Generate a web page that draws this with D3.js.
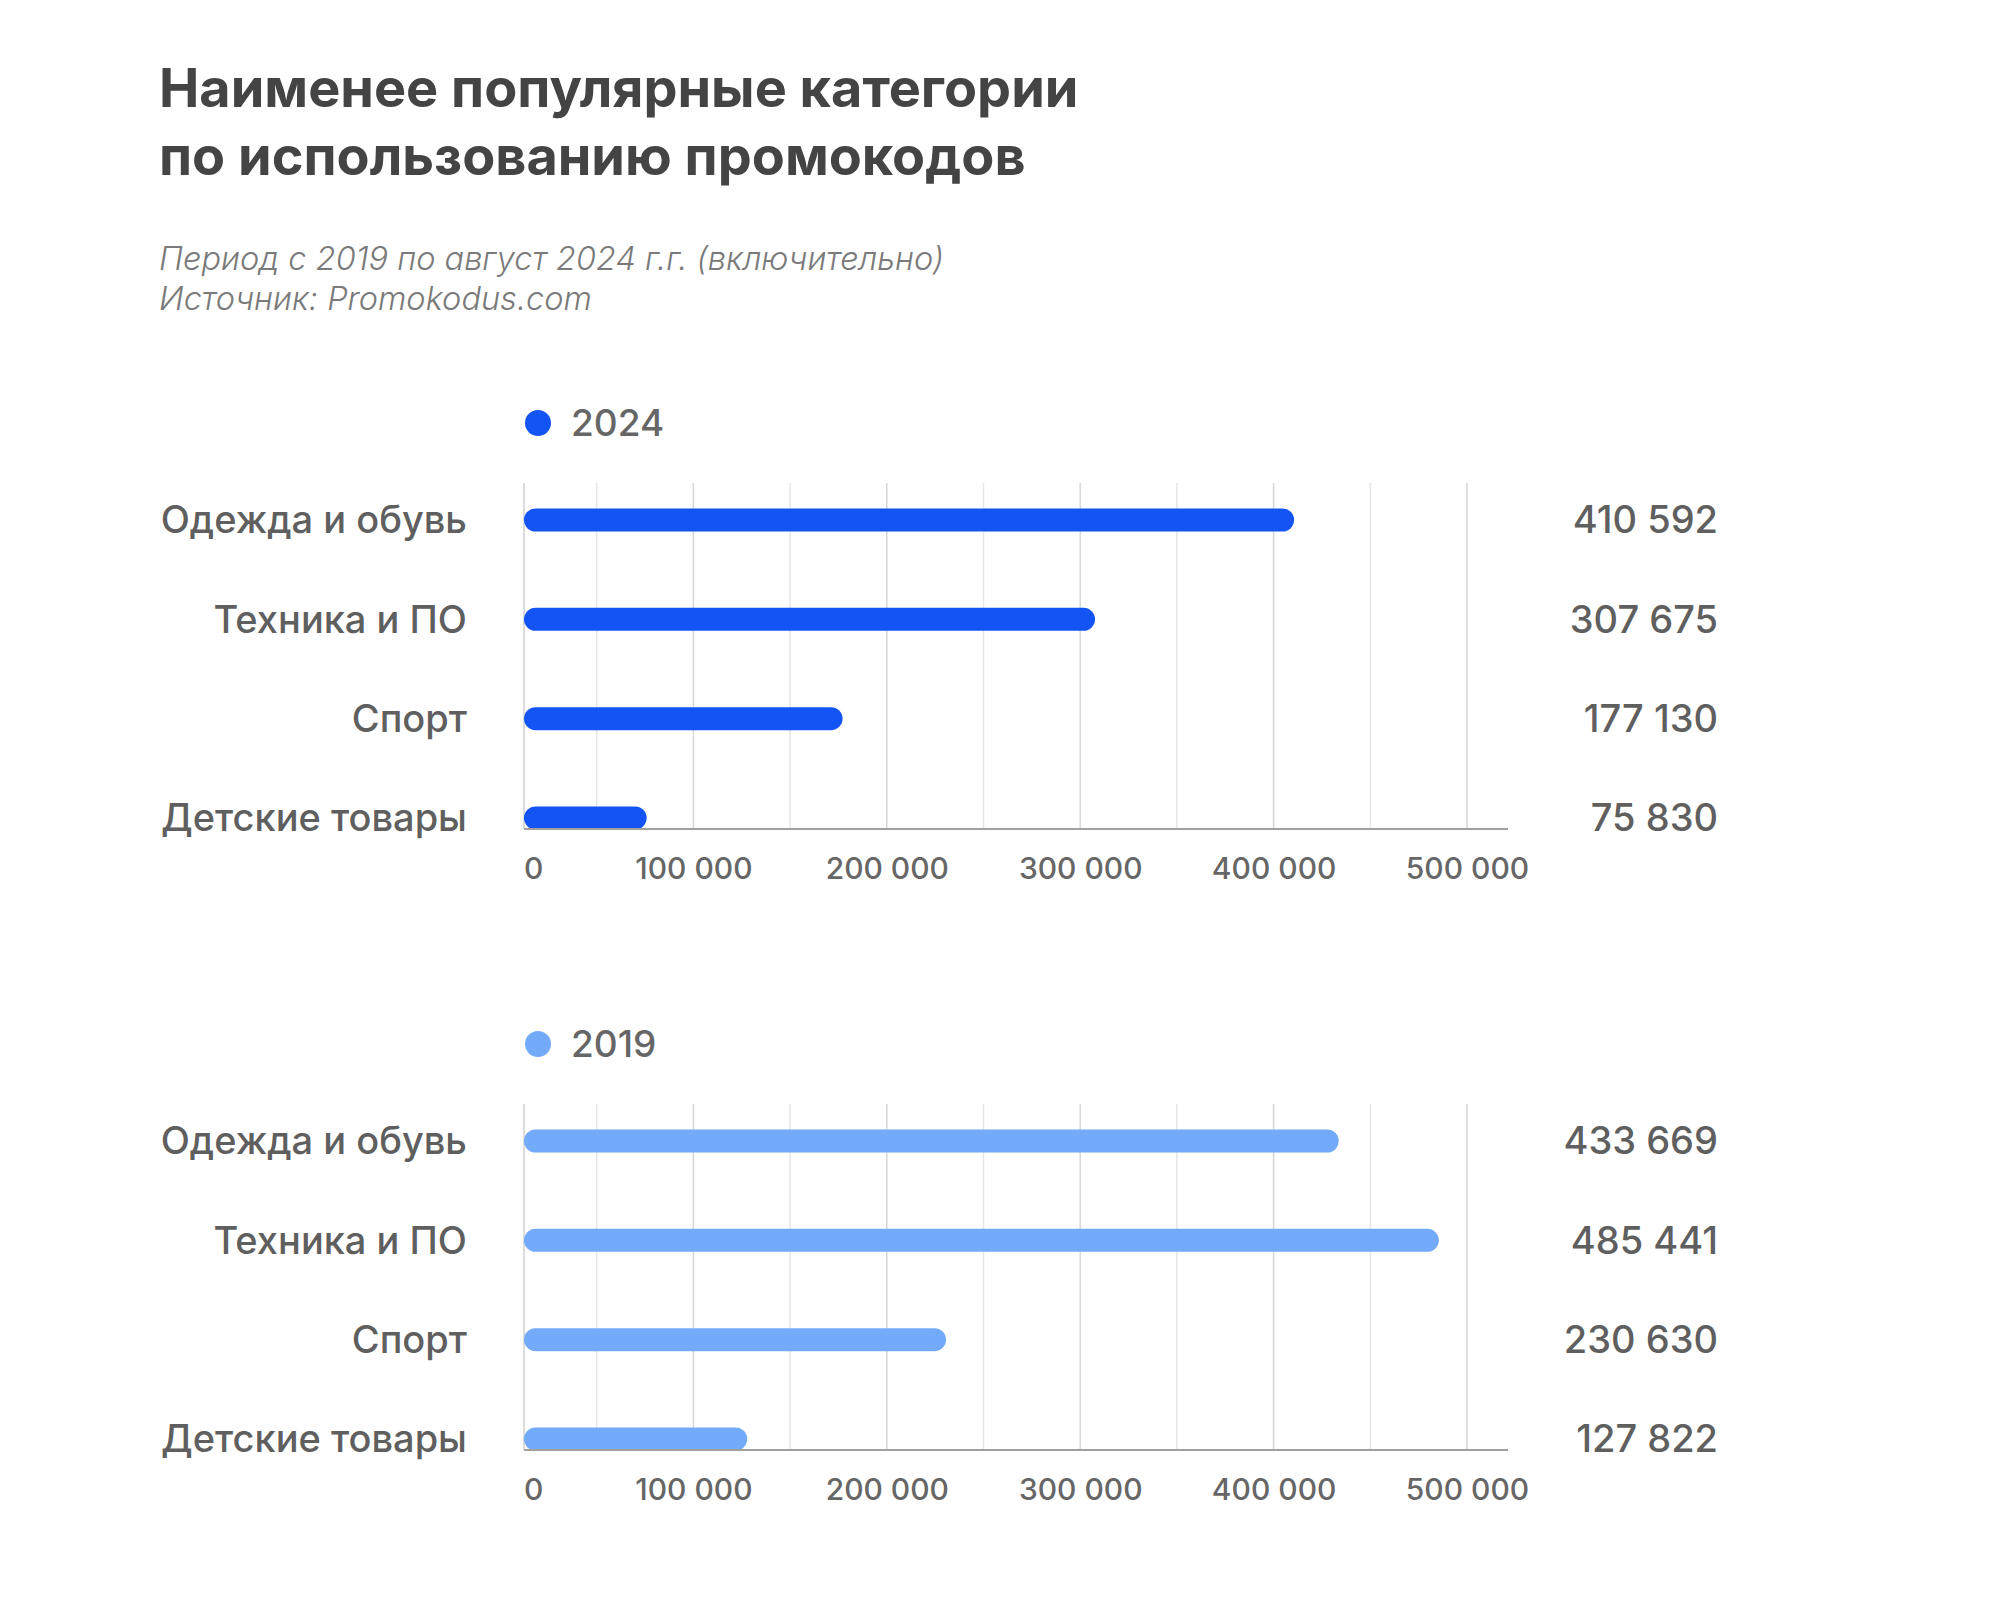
<!DOCTYPE html>
<meta charset="utf-8">
<script src="https://d3js.org/d3.v7.min.js"></script>
<style>
  body { margin: 0; background: #fff; }
  text { font-family: Inter, "Noto Sans", sans-serif; }
</style>
<body>
<div id="chart"></div>
<script>
// data
var categories = ["Одежда и обувь", "Техника и ПО", "Спорт", "Детские товары"];
var years = ["2024", "2019"];
var values2024 = [410592, 307675, 177130, 75830];
var values2019 = [433669, 485441, 230630, 127822];
var tickValues = [0, 100000, 200000, 300000, 400000, 500000];
var gridValues = [50000, 100000, 150000, 200000, 250000, 300000, 350000, 400000, 450000, 500000];

var colors = { "2024": "#1454f5", "2019": "#74aafa" };
var seriesValues = { "2024": values2024, "2019": values2019 };

var W = 1999, H = 1597;
var svg = d3.select("#chart").append("svg")
  .attr("width", W).attr("height", H);

// title + subtitle
var title = svg.append("text")
  .attr("x", 159).attr("y", 107)
  .attr("fill", "#444")
  .style("font-size", "54px").style("font-weight", 700);
title.append("tspan").attr("x", 159).text("Наименее популярные категории");
title.append("tspan").attr("x", 159).attr("dy", 68).text("по использованию промокодов");

var sub = svg.append("text")
  .attr("x", 159).attr("y", 270)
  .attr("fill", "#7a7a7a")
  .style("font-size", "32.5px").style("font-weight", 300).style("font-style", "italic");
sub.append("tspan").attr("x", 159).text("Период с 2019 по август 2024 г.г. (включительно)");
sub.append("tspan").attr("x", 159).attr("dy", 40).text("Источник: Promokodus.com");

var fmt = d3.formatLocale({ decimal: ",", thousands: "\u00a0", grouping: [3], currency: ["", ""] }).format(",d");

// shared x scale
var x = d3.scaleLinear().domain([0, 500000]).range([500, 1467]);
var plotLeft = 524, plotRight = 1508;

function drawPanel(year, top) {
  var g = svg.append("g").attr("transform", "translate(0," + top + ")");
  var vals = seriesValues[year];

  // legend
  g.append("circle").attr("cx", 538).attr("cy", 0).attr("r", 13).attr("fill", colors[year]);
  g.append("text").attr("x", 571).attr("y", 13)
    .attr("fill", "#666").style("font-size", "37px").style("font-weight", 500)
    .text(year);

  var gridTop = 60, axisY = 406;
  var y = d3.scalePoint().domain(categories).range([gridTop + 37, axisY - 11]);

  // grid
  g.selectAll(".grid").data(gridValues).enter().append("line")
    .attr("x1", function(d) { return x(d); }).attr("x2", function(d) { return x(d); })
    .attr("y1", gridTop).attr("y2", axisY)
    .attr("stroke", function(d) { return d % 100000 === 0 ? "#d6d6d6" : "#e6e6e6"; })
    .attr("stroke-width", 1.5);
  g.append("line").attr("x1", plotLeft).attr("x2", plotLeft)
    .attr("y1", gridTop).attr("y2", axisY)
    .attr("stroke", "#d0d0d0").attr("stroke-width", 1.5);

  // bars
  g.selectAll(".bar").data(vals).enter().append("rect")
    .attr("x", plotLeft)
    .attr("y", function(d, i) { return y(categories[i]) - 11.5; })
    .attr("width", function(d) { return x(d) - plotLeft; })
    .attr("height", 23)
    .attr("rx", 11.5)
    .attr("fill", colors[year]);

  // axis line
  g.append("line").attr("x1", plotLeft).attr("x2", plotRight)
    .attr("y1", axisY).attr("y2", axisY)
    .attr("stroke", "#a0a0a0").attr("stroke-width", 2);

  // x tick labels
  var ax = g.append("g").attr("transform", "translate(0," + axisY + ")")
    .call(d3.axisBottom(x).tickValues(tickValues).tickSize(0).tickPadding(0)
      .tickFormat(function(d) { return fmt(d); }));
  ax.select(".domain").remove();
  ax.selectAll("text")
    .attr("y", 50).attr("dy", 0)
    .attr("fill", "#666")
    .style("font-size", "30px").style("font-family", "Inter, sans-serif").style("font-weight", 500);
  ax.selectAll(".tick").filter(function(d) { return d === 0; })
    .attr("transform", "translate(" + plotLeft + ",0)")
    .select("text").attr("text-anchor", "start");

  // category labels
  g.selectAll(".cat").data(categories).enter().append("text")
    .attr("x", 467).attr("y", function(d) { return y(d); }).attr("dy", "0.35em")
    .attr("text-anchor", "end").attr("fill", "#5f5f5f")
    .style("font-size", "38px").style("font-weight", 500)
    .text(function(d) { return d; });

  // value labels
  g.selectAll(".val").data(vals).enter().append("text")
    .attr("x", 1718).attr("y", function(d, i) { return y(categories[i]); }).attr("dy", "0.35em")
    .attr("text-anchor", "end").attr("fill", "#5f5f5f")
    .style("font-size", "38px").style("font-weight", 500)
    .text(function(d) { return fmt(d); });
}

drawPanel(years[0], 423);
drawPanel(years[1], 1044);
</script>
</body>
